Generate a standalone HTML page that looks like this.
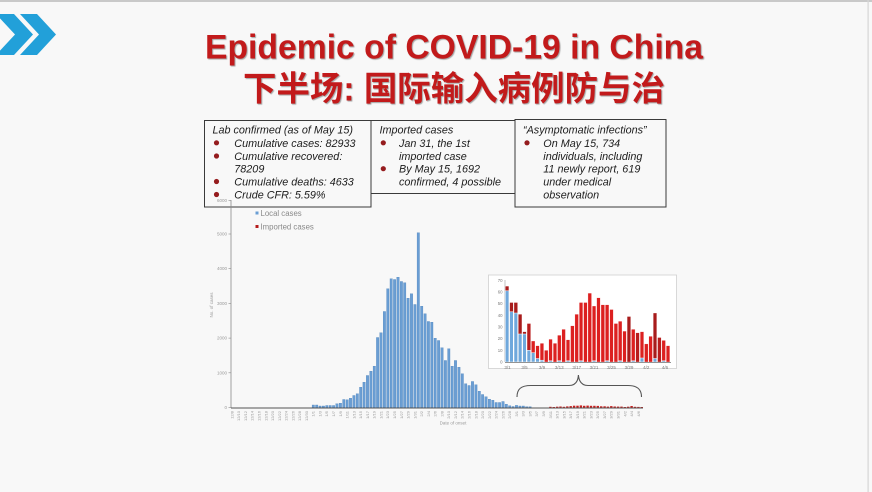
<!DOCTYPE html>
<html>
<head>
<meta charset="utf-8">
<style>
html,body{margin:0;padding:0;background:#f8f8f8;}
body{width:872px;height:492px;overflow:hidden;}
svg{display:block;}
</style>
</head>
<body>
<svg width="872" height="492" viewBox="0 0 872 492" xmlns="http://www.w3.org/2000/svg">
<rect x="0" y="0" width="872" height="492" fill="#f8f8f8"/>
<rect x="0" y="0" width="872" height="2" fill="#c9c9c9"/>
<rect x="867.5" y="0" width="1.2" height="492" fill="#d6d6d6"/>

<!-- chevrons -->
<polygon points="-4,14 14,14 33,34.5 14,55 -4,55 15,34.5" fill="#22a0d9"/>
<polygon points="20,14 37,14 56,34.5 37,55 20,55 39,34.5" fill="#22a0d9"/>

<!-- title -->
<g font-family="Liberation Sans, Arial, sans-serif" font-weight="bold" fill="#c21a1b" style="text-shadow:1px 1px 1px rgba(0,0,0,0.35)">
<text x="454" y="58.5" font-size="34" text-anchor="middle" textLength="498" lengthAdjust="spacingAndGlyphs">Epidemic of COVID-19 in China</text>
<text x="454" y="100.5" font-size="34" text-anchor="middle" textLength="422" lengthAdjust="spacingAndGlyphs" font-family="Liberation Sans, Noto Sans CJK SC, sans-serif">下半场: 国际输入病例防与治</text>
</g>

<!-- info boxes -->
<rect x="204.5" y="120.5" width="166.5" height="86.5" fill="none" stroke="#3a3a3a" stroke-width="1"/>
<rect x="371" y="120.5" width="144" height="73" fill="none" stroke="#3a3a3a" stroke-width="1"/>
<rect x="515" y="119.5" width="151" height="87.5" fill="none" stroke="#3a3a3a" stroke-width="1"/>

<g font-family="Liberation Sans, Arial, sans-serif" font-style="italic" font-size="10.8" fill="#1c1c1c">
<text x="212.5" y="133.5">Lab confirmed (as of May 15)</text>
<text x="234.3" y="146.8">Cumulative cases: 82933</text>
<text x="234.3" y="160">Cumulative recovered:</text>
<text x="234.3" y="172.7">78209</text>
<text x="234.3" y="185.5">Cumulative deaths: 4633</text>
<text x="234.3" y="198.5">Crude CFR: 5.59%</text>

<text x="379.5" y="133.5">Imported cases</text>
<text x="399" y="146.8">Jan 31, the 1st</text>
<text x="399" y="160">imported case</text>
<text x="399" y="172.7">By May 15, 1692</text>
<text x="399" y="185.5">confirmed, 4 possible</text>

<text x="523" y="133.5">“Asymptomatic infections”</text>
<text x="543.3" y="146.8">On May 15, 734</text>
<text x="543.3" y="160">individuals, including</text>
<text x="543.3" y="172.7">11 newly report, 619</text>
<text x="543.3" y="185.5">under medical</text>
<text x="543.3" y="198.5">observation</text>
</g>
<g fill="#951c1e">
<circle cx="216.5" cy="142.8" r="2.6"/>
<circle cx="216.5" cy="156" r="2.6"/>
<circle cx="216.5" cy="181.5" r="2.6"/>
<circle cx="216.5" cy="194.5" r="2.6"/>
<circle cx="383.3" cy="142.8" r="2.6"/>
<circle cx="383.3" cy="168.7" r="2.6"/>
<circle cx="527" cy="142.8" r="2.6"/>
</g>

<!-- main chart axes -->
<line x1="231" y1="200" x2="231" y2="408" stroke="#8a8a8a" stroke-width="0.8"/>
<g stroke="#8a8a8a" stroke-width="0.6">
<line x1="228.5" y1="407.5" x2="231" y2="407.5"/>
<line x1="228.5" y1="372.8" x2="231" y2="372.8"/>
<line x1="228.5" y1="338.1" x2="231" y2="338.1"/>
<line x1="228.5" y1="303.4" x2="231" y2="303.4"/>
<line x1="228.5" y1="268.7" x2="231" y2="268.7"/>
<line x1="228.5" y1="234" x2="231" y2="234"/>
<line x1="228.5" y1="200.3" x2="231" y2="200.3"/>
</g>
<g font-family="Liberation Sans, Arial, sans-serif" font-size="4.5" fill="#9a9a9a" text-anchor="end">
<text x="227" y="409">0</text>
<text x="227" y="374.3">1000</text>
<text x="227" y="339.6">2000</text>
<text x="227" y="304.9">3000</text>
<text x="227" y="270.2">4000</text>
<text x="227" y="235.5">5000</text>
<text x="227" y="201.8">6000</text>
</g>
<text transform="translate(213,305) rotate(-90)" font-family="Liberation Sans, Arial, sans-serif" font-size="4.5" fill="#9a9a9a" text-anchor="middle">No. of cases</text>
<text x="453" y="424.5" font-family="Liberation Sans, Arial, sans-serif" font-size="4.5" fill="#9a9a9a" text-anchor="middle">Date of onset</text>

<!-- legend -->
<rect x="255.5" y="211.5" width="3" height="3" fill="#6a9ed4"/>
<text x="260.5" y="216" font-family="Liberation Sans, Arial, sans-serif" font-size="7.8" fill="#8a8a8a">Local cases</text>
<rect x="255.5" y="225" width="3" height="3" fill="#b51c1c"/>
<text x="260.5" y="229.5" font-family="Liberation Sans, Arial, sans-serif" font-size="7.8" fill="#8a8a8a">Imported cases</text>

<!-- main bars -->
<g fill="#6a9ed4" stroke="#4f84bc" stroke-width="0.35">
<rect x="312.1" y="405.0" width="2.4" height="2.5"/>
<rect x="315.5" y="405.0" width="2.4" height="2.5"/>
<rect x="318.9" y="406.0" width="2.4" height="1.5"/>
<rect x="322.2" y="406.0" width="2.4" height="1.5"/>
<rect x="325.6" y="405.5" width="2.4" height="2"/>
<rect x="329.0" y="405.5" width="2.4" height="2"/>
<rect x="332.4" y="405.5" width="2.4" height="2"/>
<rect x="335.8" y="403.8" width="2.4" height="3.7"/>
<rect x="339.2" y="403.2" width="2.4" height="4.3"/>
<rect x="342.6" y="399.5" width="2.4" height="8"/>
<rect x="346.0" y="399.8" width="2.4" height="7.7"/>
<rect x="349.3" y="398.2" width="2.4" height="9.3"/>
<rect x="352.7" y="395.5" width="2.4" height="12"/>
<rect x="356.1" y="393.8" width="2.4" height="13.7"/>
<rect x="359.5" y="387.2" width="2.4" height="20.3"/>
<rect x="362.9" y="382.2" width="2.4" height="25.3"/>
<rect x="366.3" y="375.5" width="2.4" height="32"/>
<rect x="369.7" y="371.2" width="2.4" height="36.3"/>
<rect x="373.1" y="366.2" width="2.4" height="41.3"/>
<rect x="376.4" y="337.5" width="2.4" height="70"/>
<rect x="379.8" y="332.8" width="2.4" height="74.7"/>
<rect x="383.2" y="311.5" width="2.4" height="96"/>
<rect x="386.6" y="288.8" width="2.4" height="118.7"/>
<rect x="390.0" y="278.8" width="2.4" height="128.7"/>
<rect x="393.4" y="279.5" width="2.4" height="128"/>
<rect x="396.8" y="277.2" width="2.4" height="130.3"/>
<rect x="400.2" y="281.5" width="2.4" height="126"/>
<rect x="403.5" y="282.8" width="2.4" height="124.7"/>
<rect x="406.9" y="298.2" width="2.4" height="109.3"/>
<rect x="410.3" y="293.8" width="2.4" height="113.7"/>
<rect x="413.7" y="304.5" width="2.4" height="103"/>
<rect x="417.1" y="232.8" width="2.4" height="174.7"/>
<rect x="420.5" y="306.2" width="2.4" height="101.3"/>
<rect x="423.9" y="313.8" width="2.4" height="93.7"/>
<rect x="427.2" y="321.5" width="2.4" height="86"/>
<rect x="430.6" y="322.2" width="2.4" height="85.3"/>
<rect x="434.0" y="338.2" width="2.4" height="69.3"/>
<rect x="437.4" y="340.5" width="2.4" height="67"/>
<rect x="440.8" y="347.8" width="2.4" height="59.7"/>
<rect x="444.2" y="360.5" width="2.4" height="47"/>
<rect x="447.6" y="348.8" width="2.4" height="58.7"/>
<rect x="451.0" y="366.2" width="2.4" height="41.3"/>
<rect x="454.3" y="360.5" width="2.4" height="47"/>
<rect x="457.7" y="367.2" width="2.4" height="40.3"/>
<rect x="461.1" y="373.8" width="2.4" height="33.7"/>
<rect x="464.5" y="383.8" width="2.4" height="23.7"/>
<rect x="467.9" y="385.5" width="2.4" height="22"/>
<rect x="471.3" y="381.5" width="2.4" height="26"/>
<rect x="474.7" y="384.8" width="2.4" height="22.7"/>
<rect x="478.1" y="391.2" width="2.4" height="16.3"/>
<rect x="481.4" y="394.5" width="2.4" height="13"/>
<rect x="484.8" y="396.8" width="2.4" height="10.7"/>
<rect x="488.2" y="399.2" width="2.4" height="8.3"/>
<rect x="491.6" y="400.2" width="2.4" height="7.3"/>
<rect x="495.0" y="402.5" width="2.4" height="5"/>
<rect x="498.4" y="402.5" width="2.4" height="5"/>
<rect x="501.8" y="401.5" width="2.4" height="6"/>
<rect x="505.1" y="404.2" width="2.4" height="3.3"/>
<rect x="508.5" y="405.8" width="2.4" height="1.7"/>
<rect x="511.9" y="406.5" width="2.4" height="1"/>
<rect x="515.3" y="405.4" width="2.4" height="2.1"/>
<rect x="518.7" y="406.0" width="2.4" height="1.5"/>
<rect x="522.1" y="406.0" width="2.4" height="1.5"/>
<rect x="525.5" y="406.7" width="2.4" height="0.8"/>
<rect x="528.9" y="406.7" width="2.4" height="0.8"/>
</g>
<g fill="#c8201f">
<rect x="549.2" y="406.8" width="2.4" height="0.7"/>
<rect x="552.6" y="407.0" width="2.4" height="0.55"/>
<rect x="556.0" y="406.7" width="2.4" height="0.8"/>
<rect x="559.3" y="406.5" width="2.4" height="1.0"/>
<rect x="562.7" y="406.8" width="2.4" height="0.7"/>
<rect x="566.1" y="406.4" width="2.4" height="1.1"/>
<rect x="569.5" y="406.1" width="2.4" height="1.4"/>
<rect x="572.9" y="405.7" width="2.4" height="1.8"/>
<rect x="576.3" y="405.7" width="2.4" height="1.8"/>
<rect x="579.7" y="405.4" width="2.4" height="2.1"/>
<rect x="583.0" y="405.8" width="2.4" height="1.7"/>
<rect x="586.4" y="405.6" width="2.4" height="1.9"/>
<rect x="589.8" y="405.8" width="2.4" height="1.7"/>
<rect x="593.2" y="405.8" width="2.4" height="1.7"/>
<rect x="596.6" y="405.9" width="2.4" height="1.6"/>
<rect x="600.0" y="406.3" width="2.4" height="1.2"/>
<rect x="603.4" y="406.3" width="2.4" height="1.2"/>
<rect x="606.7" y="406.6" width="2.4" height="0.9"/>
<rect x="610.1" y="406.1" width="2.4" height="1.4"/>
<rect x="613.5" y="406.5" width="2.4" height="1.0"/>
<rect x="616.9" y="406.6" width="2.4" height="0.9"/>
<rect x="620.3" y="406.6" width="2.4" height="0.9"/>
<rect x="623.7" y="407.0" width="2.4" height="0.5"/>
<rect x="627.0" y="406.7" width="2.4" height="0.8"/>
<rect x="630.4" y="406.0" width="2.4" height="1.5"/>
<rect x="633.8" y="406.8" width="2.4" height="0.7"/>
<rect x="637.2" y="406.9" width="2.4" height="0.6"/>
<rect x="640.6" y="407.0" width="2.4" height="0.5"/>
</g>
<line x1="231" y1="408" x2="643" y2="408" stroke="#555" stroke-width="0.9"/>

<!-- x labels -->
<g font-family="Liberation Sans, Arial, sans-serif" font-size="4" fill="#9a9a9a" text-anchor="end">
<text transform="translate(232.0,411) rotate(-90)" y="1.4">12/8</text>
<text transform="translate(238.8,411) rotate(-90)" y="1.4">12/10</text>
<text transform="translate(245.5,411) rotate(-90)" y="1.4">12/12</text>
<text transform="translate(252.3,411) rotate(-90)" y="1.4">12/14</text>
<text transform="translate(259.1,411) rotate(-90)" y="1.4">12/16</text>
<text transform="translate(265.9,411) rotate(-90)" y="1.4">12/18</text>
<text transform="translate(272.6,411) rotate(-90)" y="1.4">12/20</text>
<text transform="translate(279.4,411) rotate(-90)" y="1.4">12/22</text>
<text transform="translate(286.2,411) rotate(-90)" y="1.4">12/24</text>
<text transform="translate(293.0,411) rotate(-90)" y="1.4">12/26</text>
<text transform="translate(299.7,411) rotate(-90)" y="1.4">12/28</text>
<text transform="translate(306.5,411) rotate(-90)" y="1.4">12/30</text>
<text transform="translate(313.3,411) rotate(-90)" y="1.4">1/1</text>
<text transform="translate(320.1,411) rotate(-90)" y="1.4">1/3</text>
<text transform="translate(326.8,411) rotate(-90)" y="1.4">1/5</text>
<text transform="translate(333.6,411) rotate(-90)" y="1.4">1/7</text>
<text transform="translate(340.4,411) rotate(-90)" y="1.4">1/9</text>
<text transform="translate(347.2,411) rotate(-90)" y="1.4">1/11</text>
<text transform="translate(353.9,411) rotate(-90)" y="1.4">1/13</text>
<text transform="translate(360.7,411) rotate(-90)" y="1.4">1/15</text>
<text transform="translate(367.5,411) rotate(-90)" y="1.4">1/17</text>
<text transform="translate(374.3,411) rotate(-90)" y="1.4">1/19</text>
<text transform="translate(381.0,411) rotate(-90)" y="1.4">1/21</text>
<text transform="translate(387.8,411) rotate(-90)" y="1.4">1/23</text>
<text transform="translate(394.6,411) rotate(-90)" y="1.4">1/25</text>
<text transform="translate(401.4,411) rotate(-90)" y="1.4">1/27</text>
<text transform="translate(408.1,411) rotate(-90)" y="1.4">1/29</text>
<text transform="translate(414.9,411) rotate(-90)" y="1.4">1/31</text>
<text transform="translate(421.7,411) rotate(-90)" y="1.4">2/2</text>
<text transform="translate(428.4,411) rotate(-90)" y="1.4">2/4</text>
<text transform="translate(435.2,411) rotate(-90)" y="1.4">2/6</text>
<text transform="translate(442.0,411) rotate(-90)" y="1.4">2/8</text>
<text transform="translate(448.8,411) rotate(-90)" y="1.4">2/10</text>
<text transform="translate(455.5,411) rotate(-90)" y="1.4">2/12</text>
<text transform="translate(462.3,411) rotate(-90)" y="1.4">2/14</text>
<text transform="translate(469.1,411) rotate(-90)" y="1.4">2/16</text>
<text transform="translate(475.9,411) rotate(-90)" y="1.4">2/18</text>
<text transform="translate(482.6,411) rotate(-90)" y="1.4">2/20</text>
<text transform="translate(489.4,411) rotate(-90)" y="1.4">2/22</text>
<text transform="translate(496.2,411) rotate(-90)" y="1.4">2/24</text>
<text transform="translate(503.0,411) rotate(-90)" y="1.4">2/26</text>
<text transform="translate(509.7,411) rotate(-90)" y="1.4">2/28</text>
<text transform="translate(516.5,411) rotate(-90)" y="1.4">3/1</text>
<text transform="translate(523.3,411) rotate(-90)" y="1.4">3/3</text>
<text transform="translate(530.1,411) rotate(-90)" y="1.4">3/5</text>
<text transform="translate(536.8,411) rotate(-90)" y="1.4">3/7</text>
<text transform="translate(543.6,411) rotate(-90)" y="1.4">3/9</text>
<text transform="translate(550.4,411) rotate(-90)" y="1.4">3/11</text>
<text transform="translate(557.2,411) rotate(-90)" y="1.4">3/13</text>
<text transform="translate(563.9,411) rotate(-90)" y="1.4">3/15</text>
<text transform="translate(570.7,411) rotate(-90)" y="1.4">3/17</text>
<text transform="translate(577.5,411) rotate(-90)" y="1.4">3/19</text>
<text transform="translate(584.2,411) rotate(-90)" y="1.4">3/21</text>
<text transform="translate(591.0,411) rotate(-90)" y="1.4">3/23</text>
<text transform="translate(597.8,411) rotate(-90)" y="1.4">3/25</text>
<text transform="translate(604.6,411) rotate(-90)" y="1.4">3/27</text>
<text transform="translate(611.3,411) rotate(-90)" y="1.4">3/29</text>
<text transform="translate(618.1,411) rotate(-90)" y="1.4">3/31</text>
<text transform="translate(624.9,411) rotate(-90)" y="1.4">4/2</text>
<text transform="translate(631.7,411) rotate(-90)" y="1.4">4/4</text>
<text transform="translate(638.4,411) rotate(-90)" y="1.4">4/6</text>
</g>

<!-- brace -->
<path d="M517,397 C517,389 521,385.5 531,385.5 L569,385.5 C575,385.5 578,382 578.4,375 C579,382 582,385.5 588,385.5 L628,385.5 C637,385.5 641.5,389 641.5,397" fill="none" stroke="#555" stroke-width="1.1"/>

<!-- inset -->
<rect x="488.5" y="275" width="188" height="93.5" fill="#ffffff" stroke="#cfcfcf" stroke-width="0.8"/>
<line x1="505" y1="280" x2="505" y2="362" stroke="#9a9a9a" stroke-width="0.6"/>
<g font-family="Liberation Sans, Arial, sans-serif" font-size="4.3" fill="#7a7a7a" text-anchor="end">
<text x="502.5" y="363.5">0</text>
<text x="502.5" y="351.8">10</text>
<text x="502.5" y="340.2">20</text>
<text x="502.5" y="328.5">30</text>
<text x="502.5" y="316.8">40</text>
<text x="502.5" y="305.2">50</text>
<text x="502.5" y="293.5">60</text>
<text x="502.5" y="281.8">70</text>
</g>
<!-- inset red totals -->
<g fill="#dc2020" stroke="#ffffff" stroke-width="0.3">
<rect x="505.3" y="286.1" width="3.6" height="75.9" fill="#a81c1c"/>
<rect x="509.65" y="302.5" width="3.6" height="59.5" fill="#a81c1c"/>
<rect x="514.0" y="302.5" width="3.6" height="59.5" fill="#a81c1c"/>
<rect x="518.35" y="314.2" width="3.6" height="47.8" fill="#a81c1c"/>
<rect x="522.7" y="331.7" width="3.6" height="30.3" fill="#a81c1c"/>
<rect x="527.05" y="323.5" width="3.6" height="38.5" fill="#b81d1d"/>
<rect x="531.4" y="341.0" width="3.6" height="21"/>
<rect x="535.75" y="345.7" width="3.6" height="16.3"/>
<rect x="540.1" y="343.3" width="3.6" height="18.7"/>
<rect x="544.45" y="350.3" width="3.6" height="11.7"/>
<rect x="548.8" y="339.2" width="3.6" height="22.8"/>
<rect x="553.15" y="343.3" width="3.6" height="18.7"/>
<rect x="557.5" y="335.2" width="3.6" height="26.8"/>
<rect x="561.85" y="329.3" width="3.6" height="32.7"/>
<rect x="566.2" y="339.8" width="3.6" height="22.2"/>
<rect x="570.55" y="325.8" width="3.6" height="36.2"/>
<rect x="574.9" y="314.2" width="3.6" height="47.8"/>
<rect x="579.25" y="302.5" width="3.6" height="59.5"/>
<rect x="583.6" y="302.5" width="3.6" height="59.5"/>
<rect x="587.95" y="293.1" width="3.6" height="68.9"/>
<rect x="592.3" y="306.0" width="3.6" height="56"/>
<rect x="596.65" y="297.8" width="3.6" height="64.2"/>
<rect x="601.0" y="304.8" width="3.6" height="57.2"/>
<rect x="605.35" y="304.8" width="3.6" height="57.2"/>
<rect x="609.7" y="309.5" width="3.6" height="52.5"/>
<rect x="614.05" y="323.5" width="3.6" height="38.5"/>
<rect x="618.4" y="321.2" width="3.6" height="40.8"/>
<rect x="622.75" y="331.1" width="3.6" height="30.9"/>
<rect x="627.1" y="316.5" width="3.6" height="45.5" fill="#a81c1c"/>
<rect x="631.45" y="329.3" width="3.6" height="32.7"/>
<rect x="635.8" y="332.8" width="3.6" height="29.2" fill="#b81d1d"/>
<rect x="640.15" y="331.7" width="3.6" height="30.3"/>
<rect x="644.5" y="343.9" width="3.6" height="18.1"/>
<rect x="648.85" y="336.3" width="3.6" height="25.7"/>
<rect x="653.2" y="313.0" width="3.6" height="49" fill="#a81c1c"/>
<rect x="657.55" y="337.5" width="3.6" height="24.5" fill="#b81d1d"/>
<rect x="661.9" y="340.4" width="3.6" height="21.6"/>
<rect x="666.25" y="345.7" width="3.6" height="16.3"/>
</g>
<!-- inset blue local -->
<g fill="#6fa8dc" stroke="#ffffff" stroke-width="0.5">
<rect x="505.3" y="290.8" width="3.6" height="71.2"/>
<rect x="509.65" y="311.8" width="3.6" height="50.2"/>
<rect x="514.0" y="313.0" width="3.6" height="49"/>
<rect x="518.35" y="334.0" width="3.6" height="28"/>
<rect x="522.7" y="334.0" width="3.6" height="28"/>
<rect x="527.05" y="350.3" width="3.6" height="11.7"/>
<rect x="531.4" y="352.7" width="3.6" height="9.3"/>
<rect x="535.75" y="358.5" width="3.6" height="3.5"/>
<rect x="540.1" y="360.2" width="3.6" height="1.8"/>
<rect x="548.8" y="360.8" width="3.6" height="1.2"/>
<rect x="557.5" y="360.8" width="3.6" height="1.2"/>
<rect x="566.2" y="360.8" width="3.6" height="1.2"/>
<rect x="579.25" y="360.8" width="3.6" height="1.2"/>
<rect x="592.3" y="360.8" width="3.6" height="1.2"/>
<rect x="605.35" y="360.8" width="3.6" height="1.2"/>
<rect x="618.4" y="360.8" width="3.6" height="1.2"/>
<rect x="631.45" y="360.8" width="3.6" height="1.2"/>
<rect x="640.15" y="358.0" width="3.6" height="4"/>
<rect x="653.2" y="358.5" width="3.6" height="3.5"/>
<rect x="661.9" y="360.8" width="3.6" height="1.2"/>
</g>
<line x1="505" y1="362.3" x2="671" y2="362.3" stroke="#555" stroke-width="0.7"/>
<g font-family="Liberation Sans, Arial, sans-serif" font-size="4.5" fill="#7a7a7a" text-anchor="middle">
<text x="507.5" y="368.8">3/1</text>
<text x="524.5" y="368.8">3/5</text>
<text x="542" y="368.8">3/9</text>
<text x="559.3" y="368.8">3/13</text>
<text x="576.7" y="368.8">3/17</text>
<text x="594" y="368.8">3/21</text>
<text x="611.5" y="368.8">3/25</text>
<text x="629" y="368.8">3/29</text>
<text x="646.3" y="368.8">4/2</text>
<text x="665" y="368.8">4/6</text>
</g>
</svg>
</body>
</html>
